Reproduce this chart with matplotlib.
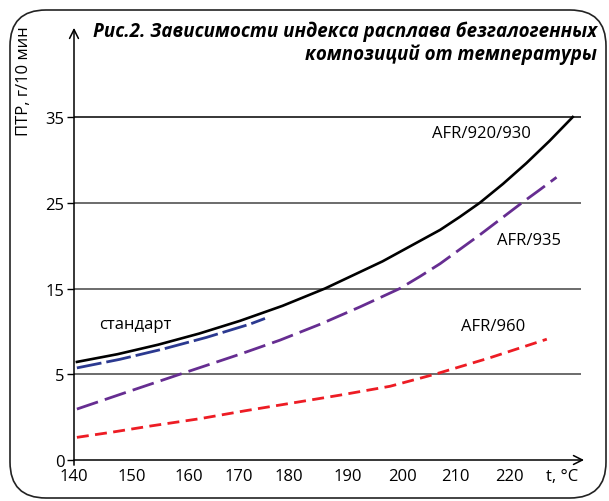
import numpy as np
import matplotlib
matplotlib.use('Agg')
import matplotlib.pyplot as plt
from matplotlib.patches import FancyBboxPatch
from matplotlib.transforms import IdentityTransform

# ---- data (t, degC -> ПТР, g/10 min) ----
t_920 = [140.5, 147.5, 154.6, 162.0, 170.2, 178.7, 186.1, 196.4, 207.2,
         210.9, 214.6, 218.9, 223.2, 227.5, 231.8]
mfr_920 = [6.44, 7.34, 8.45, 9.74, 11.23, 12.98, 15.0, 18.17, 21.84,
           23.36, 25.0, 27.21, 29.61, 32.21, 35.0]

t_std = [140.5, 147.9, 155.5, 163.5, 172.2, 175.2]
mfr_std = [5.74, 6.74, 7.95, 9.30, 10.85, 11.51]

t_935 = [140.5, 149.3, 158.4, 164.2, 170.2, 178.2, 185.3, 192.2, 199.6,
         203.4, 207.2, 214.6, 222.4, 225.6, 228.8]
mfr_935 = [2.97, 3.98, 5.0, 6.17, 7.34, 8.98, 10.84, 12.85, 15.0,
           16.41, 17.9, 21.26, 25.0, 26.47, 27.97]

t_960 = [140.5, 146.7, 153.2, 162.2, 171.2, 188.6, 197.8, 206.2, 216.5, 227.0]
mfr_960 = [1.32, 1.63, 1.98, 2.41, 2.87, 3.78, 4.30, 5.0, 6.93, 9.09]

x_ticks = [140, 150, 160, 170, 180, 190, 200, 210, 220]
y_ticks = [0, 5, 15, 25, 35]

# ---- the original axes are unevenly spaced, so use piecewise scales ----
x_scale_vals = [130] + x_ticks + [260]
x_scale_pos = [-58, 0, 58, 115, 165, 215, 274, 328, 381, 435, 651]
y_scale_vals = [-10] + y_ticks + [55]
y_scale_pos = [-2, 0, 1, 2, 3, 4, 6]


def x_fwd(v):
    return np.interp(v, x_scale_vals, x_scale_pos)


def x_inv(p):
    return np.interp(p, x_scale_pos, x_scale_vals)


def y_fwd(v):
    return np.interp(v, y_scale_vals, y_scale_pos)


def y_inv(p):
    return np.interp(p, y_scale_pos, y_scale_vals)


plt.rcParams['font.family'] = ['Open Sans', 'DejaVu Sans']

fig = plt.figure(figsize=(6.09, 5.02), dpi=100)
ax = fig.add_axes([74 / 609, 41 / 502, 526 / 609, 433 / 502])
ax.set_xscale('function', functions=(x_fwd, x_inv))
ax.set_yscale('function', functions=(y_fwd, y_inv))
ax.set_xlim(140, 236.85)
ax.set_ylim(0, 45.5)

for s in ax.spines.values():
    s.set_visible(False)

# horizontal grid lines
ax.hlines([5, 15, 25], 140, 233.3, color='#444444', lw=1.1, zorder=1)
ax.hlines([35], 140, 233.3, color='black', lw=1.1, zorder=1)

# axes with arrows
arrow = dict(arrowstyle='->', lw=1.1, color='black', mutation_scale=16,
             shrinkA=0, shrinkB=0)
ax.annotate('', xy=(233.9, 0), xytext=(140, 0), arrowprops=arrow,
            annotation_clip=False)
ax.annotate('', xy=(140, 45.4), xytext=(140, -0.3), arrowprops=arrow,
            annotation_clip=False)

# curves
ax.plot(t_920, mfr_920, color='black', lw=1.9, zorder=3)
ax.plot(t_std, mfr_std, color='#2b3990', lw=2.0, dashes=(9, 1.8), zorder=3)
ax.plot(t_935, mfr_935, color='#662d91', lw=2.0, dashes=(8, 2.6), zorder=3)
ax.plot(t_960, mfr_960, color='#ed1c24', lw=2.0, dashes=(4.3, 2.3), zorder=3)

# curve labels
lbl = dict(fontsize=12, va='center', ha='left', color='black')
ax.text(205.7, 33.1, 'AFR/920/930', **lbl)
ax.text(217.7, 20.7, 'AFR/935', **lbl)
ax.text(211.1, 10.65, 'AFR/960', **lbl)
ax.text(144.4, 10.85, 'стандарт', **lbl)

# ticks
ax.set_xticks(x_ticks)
ax.set_xticklabels([str(v) for v in x_ticks])
ax.set_yticks(y_ticks)
ax.set_yticklabels([str(v) for v in y_ticks])
ax.tick_params(axis='x', length=0, pad=6, labelsize=12)
ax.tick_params(axis='y', length=5, width=1.0, pad=2, labelsize=12)
ax.minorticks_off()

ax.annotate('t, °C', xy=(229.8, 0), xytext=(0, -6), textcoords='offset points',
            ha='center', va='top', fontsize=12, annotation_clip=False)

fig.text(24 / 609, 1 - 81 / 502, 'ПТР, г/10 мин', rotation=90, ha='center',
         va='center', fontsize=12)

# title
fig.text(597 / 609, 1 - 32 / 502, 'Рис.2. Зависимости индекса расплава безгалогенных',
         ha='right', va='center', fontsize=13.5, fontweight='bold', style='italic')
fig.text(597 / 609, 1 - 55 / 502, 'композиций от температуры',
         ha='right', va='center', fontsize=13.5, fontweight='bold', style='italic')

# rounded frame
frame = FancyBboxPatch((10, 3), 596, 488, boxstyle='round,pad=0,rounding_size=36',
                       transform=IdentityTransform(), facecolor='none',
                       edgecolor='#222222', lw=1.2)
fig.patches.append(frame)

fig.savefig('out.png', dpi=100)
